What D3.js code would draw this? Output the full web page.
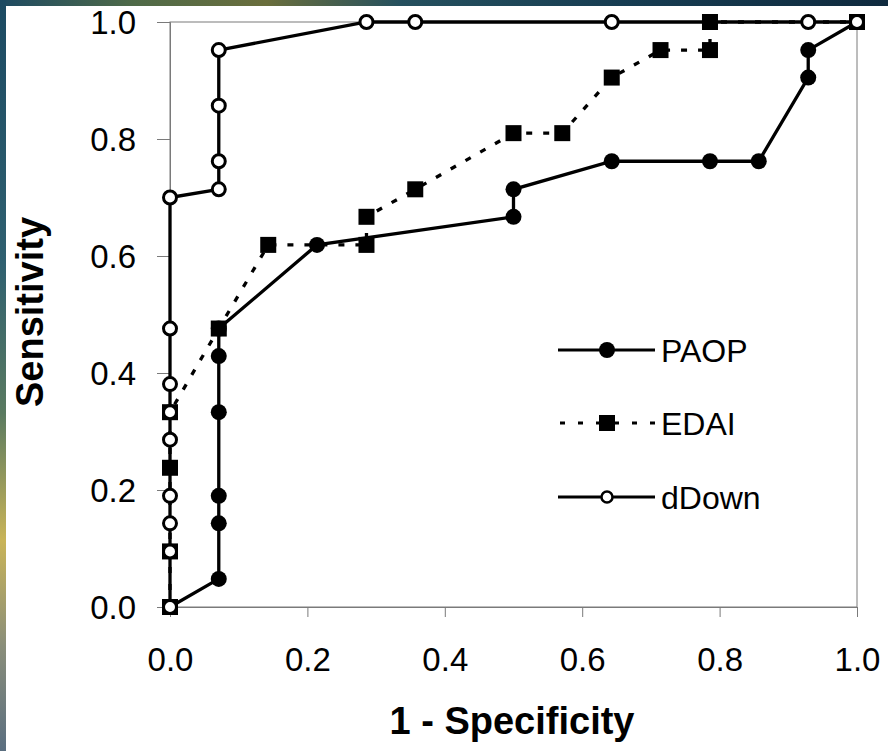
<!DOCTYPE html>
<html>
<head>
<meta charset="utf-8">
<script src="https://cdn.jsdelivr.net/npm/d3@7"></script>
<style>
body { margin: 0; background: #ffffff; }
svg { display: block; }
</style>
</head>
<body>
<svg id="chart"></svg>
<script>
// ROC curves
var xTicks = [0, 0.2, 0.4, 0.6, 0.8, 1.0];
var yTicks = [0, 0.2, 0.4, 0.6, 0.8, 1.0];

var paopX = [0, 0.071, 0.071, 0.071, 0.071, 0.071, 0.071, 0.214, 0.5, 0.5, 0.643, 0.786, 0.857, 0.929, 0.929, 1.0];
var paopY = [0, 0.048, 0.143, 0.19, 0.333, 0.429, 0.476, 0.619, 0.667, 0.714, 0.762, 0.762, 0.762, 0.905, 0.952, 1.0];

var edaiX = [0, 0, 0, 0, 0.071, 0.143, 0.286, 0.286, 0.357, 0.5, 0.571, 0.643, 0.714, 0.786, 0.786, 1.0];
var edaiY = [0, 0.095, 0.238, 0.333, 0.476, 0.619, 0.619, 0.667, 0.714, 0.81, 0.81, 0.905, 0.952, 0.952, 1.0, 1.0];

var ddownX = [0, 0, 0, 0, 0, 0, 0, 0, 0, 0.071, 0.071, 0.071, 0.071, 0.286, 0.357, 0.643, 0.929, 1.0];
var ddownY = [0, 0.095, 0.143, 0.19, 0.286, 0.333, 0.381, 0.476, 0.70, 0.714, 0.762, 0.857, 0.952, 1.0, 1.0, 1.0, 1.0, 1.0];

var seriesNames = ["PAOP", "EDAI", "dDown"];

var width = 888;
var height = 751;

var svg = d3.select("#chart")
    .attr("width", width)
    .attr("height", height);

// dark slide background peeking in at the top and left
var defs = svg.append("defs");
var topGrad = defs.append("linearGradient").attr("id", "topGrad");
topGrad.append("stop").attr("offset", "0").attr("stop-color", "#1d4a62");
topGrad.append("stop").attr("offset", "0.15").attr("stop-color", "#4f6a48");
topGrad.append("stop").attr("offset", "0.3").attr("stop-color", "#6a6e3c");
topGrad.append("stop").attr("offset", "0.45").attr("stop-color", "#25505e");
topGrad.append("stop").attr("offset", "0.7").attr("stop-color", "#173d52");
topGrad.append("stop").attr("offset", "1").attr("stop-color", "#0f2a3e");

var leftGrad = defs.append("linearGradient").attr("id", "leftGrad")
    .attr("x1", 0).attr("y1", 0).attr("x2", 0).attr("y2", 1);
leftGrad.append("stop").attr("offset", "0").attr("stop-color", "#1c4a62");
leftGrad.append("stop").attr("offset", "0.35").attr("stop-color", "#2f6070");
leftGrad.append("stop").attr("offset", "0.55").attr("stop-color", "#5a7a60");
leftGrad.append("stop").attr("offset", "0.72").attr("stop-color", "#c9b458");
leftGrad.append("stop").attr("offset", "0.86").attr("stop-color", "#8a8e7a");
leftGrad.append("stop").attr("offset", "1").attr("stop-color", "#5a6e80");

svg.append("rect").attr("x", 0).attr("y", 0).attr("width", width).attr("height", 6)
    .attr("fill", "url(#topGrad)");
svg.append("rect").attr("x", 0).attr("y", 0).attr("width", 6).attr("height", height)
    .attr("fill", "url(#leftGrad)");

var plotLeft = 170, plotRight = 857, plotTop = 22, plotBottom = 607;

var xScale = d3.scaleLinear().domain([0, 1]).range([plotLeft, plotRight]);
var yScale = d3.scaleLinear().domain([0, 1]).range([plotBottom, plotTop]);

// frame
svg.append("rect")
    .attr("x", plotLeft)
    .attr("y", plotTop)
    .attr("width", plotRight - plotLeft)
    .attr("height", plotBottom - plotTop)
    .attr("fill", "none")
    .attr("stroke", "#7a7a7a")
    .attr("stroke-width", 1);

var xAxis = svg.append("g")
    .attr("transform", "translate(0," + plotBottom + ")")
    .call(d3.axisBottom(xScale).tickValues(xTicks).tickSize(10).tickPadding(31)
        .tickFormat(d3.format(".1f")));
var yAxis = svg.append("g")
    .attr("transform", "translate(" + plotLeft + ",0)")
    .call(d3.axisLeft(yScale).tickValues(yTicks).tickSize(13).tickPadding(21)
        .tickFormat(d3.format(".1f")));

[xAxis, yAxis].forEach(function(ax)
{
    ax.select(".domain").attr("stroke", "#7a7a7a");
    ax.selectAll(".tick line").attr("stroke", "#7a7a7a");
    ax.selectAll(".tick text")
        .attr("fill", "#000")
        .attr("font-family", "Liberation Sans, Arial, sans-serif")
        .attr("font-size", 33);
});
xAxis.selectAll(".tick text").attr("dy", "0.71em");
yAxis.selectAll(".tick text").attr("dy", "0.36em");

svg.append("text")
    .attr("x", 512)
    .attr("y", 734)
    .attr("text-anchor", "middle")
    .attr("font-family", "Liberation Sans, Arial, sans-serif")
    .attr("font-weight", "bold")
    .attr("font-size", 38)
    .text("1 - Specificity");

svg.append("text")
    .attr("transform", "translate(43,312) rotate(-90)")
    .attr("text-anchor", "middle")
    .attr("font-family", "Liberation Sans, Arial, sans-serif")
    .attr("font-weight", "bold")
    .attr("font-size", 38)
    .text("Sensitivity");

var makePoints = function(xs, ys)
{
    return xs.map(function(x, i) { return [x, ys[i]]; });
}
var paop = makePoints(paopX, paopY);
var edai = makePoints(edaiX, edaiY);
var ddown = makePoints(ddownX, ddownY);

var line = d3.line()
    .x(function(d) { return xScale(d[0]); })
    .y(function(d) { return yScale(d[1]); });

var drawLine = function(points, dash)
{
    svg.append("path")
        .attr("d", line(points))
        .attr("fill", "none")
        .attr("stroke", "#000")
        .attr("stroke-width", 3.3)
        .attr("stroke-dasharray", dash);
}
drawLine(paop, null);
drawLine(edai, "6,11");
drawLine(ddown, null);

var drawFilledCircles = function(points)
{
    svg.append("g").selectAll("circle")
        .data(points)
        .enter()
        .append("circle")
        .attr("cx", function(d) { return xScale(d[0]); })
        .attr("cy", function(d) { return yScale(d[1]); })
        .attr("r", 8)
        .attr("fill", "#000");
}
var drawSquares = function(points)
{
    svg.append("g").selectAll("rect")
        .data(points)
        .enter()
        .append("rect")
        .attr("x", function(d) { return xScale(d[0]) - 8; })
        .attr("y", function(d) { return yScale(d[1]) - 8; })
        .attr("width", 16)
        .attr("height", 16)
        .attr("fill", "#000");
}
var drawOpenCircles = function(points)
{
    svg.append("g").selectAll("circle")
        .data(points)
        .enter()
        .append("circle")
        .attr("cx", function(d) { return xScale(d[0]); })
        .attr("cy", function(d) { return yScale(d[1]); })
        .attr("r", 6.5)
        .attr("fill", "#fff")
        .attr("stroke", "#000")
        .attr("stroke-width", 3);
}
drawFilledCircles(paop);
drawSquares(edai);
drawOpenCircles(ddown);

// legend
var legendY = [350, 423, 497];
var legend = svg.append("g");
seriesNames.forEach(function(name, i)
{
    var y = legendY[i];
    legend.append("line")
        .attr("x1", 558).attr("x2", 655)
        .attr("y1", y).attr("y2", y)
        .attr("stroke", "#000")
        .attr("stroke-width", 3)
        .attr("stroke-dasharray", i == 1 ? "5,13" : null)
        .attr("stroke-dashoffset", i == 1 ? -2 : 0);
    if (i == 0)
    {
        legend.append("circle").attr("cx", 607).attr("cy", y).attr("r", 8).attr("fill", "#000");
    }
    else if (i == 1)
    {
        legend.append("rect").attr("x", 599).attr("y", y - 8).attr("width", 16).attr("height", 16).attr("fill", "#000");
    }
    else
    {
        legend.append("circle").attr("cx", 607).attr("cy", y).attr("r", 5.5)
            .attr("fill", "#fff").attr("stroke", "#000").attr("stroke-width", 2.5);
    }
    legend.append("text")
        .attr("x", 661)
        .attr("y", y + 12)
        .attr("font-family", "Liberation Sans, Arial, sans-serif")
        .attr("font-size", 32)
        .text(name);
});
</script>
</body>
</html>
